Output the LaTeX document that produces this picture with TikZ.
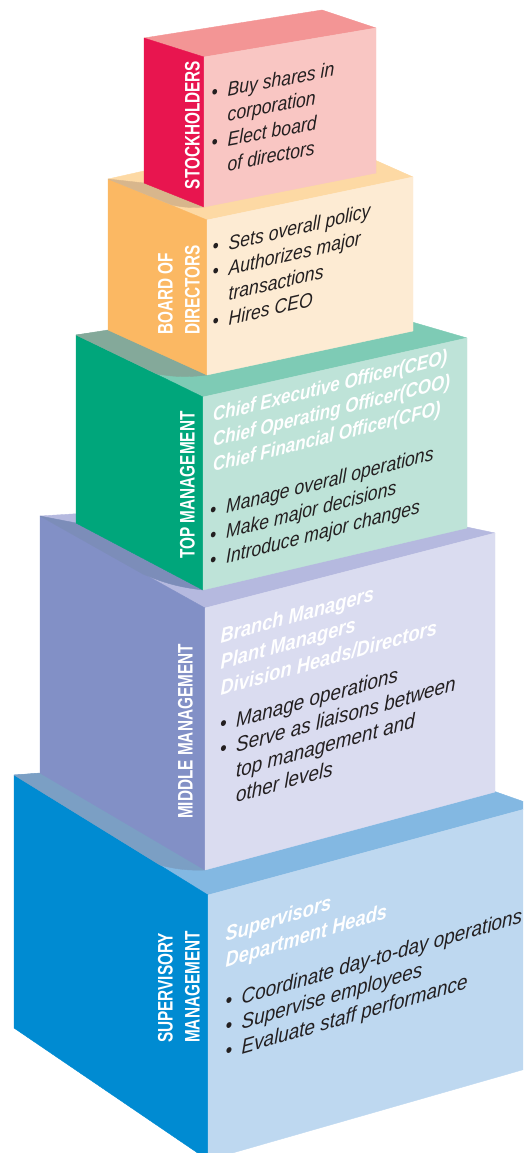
\documentclass[tikz,border=0pt]{standalone}
\usepackage{fontspec}
\setmainfont{Liberation Sans}
\newfontfamily\bodyfontA[FakeStretch=0.88]{Liberation Sans}
\newfontfamily\bodyfontB[FakeStretch=0.90]{Liberation Sans}
\newfontfamily\headfontA[FakeStretch=0.85]{Liberation Sans}
\newfontfamily\headfontB[FakeStretch=0.87]{Liberation Sans}
\newfontfamily\labelfont[FakeStretch=0.73]{Liberation Sans}

% face colours: top / left / front / cast shade
\definecolor{stTop}{HTML}{F39595}\definecolor{stLeft}{HTML}{E8154F}\definecolor{stFront}{HTML}{F9C6C3}
\definecolor{bdTop}{HTML}{FDD9A4}\definecolor{bdLeft}{HTML}{FBB863}\definecolor{bdFront}{HTML}{FDEBD3}\definecolor{bdShade}{HTML}{D8B68C}
\definecolor{tmTop}{HTML}{7ECBB5}\definecolor{tmLeft}{HTML}{00A67B}\definecolor{tmFront}{HTML}{BEE3D8}\definecolor{tmShade}{HTML}{84A99A}
\definecolor{mmTop}{HTML}{B5B9DF}\definecolor{mmLeft}{HTML}{8290C6}\definecolor{mmFront}{HTML}{DADCF0}\definecolor{mmShade}{HTML}{7C8DB9}
\definecolor{svTop}{HTML}{83B8E2}\definecolor{svLeft}{HTML}{008BD2}\definecolor{svFront}{HTML}{BED8F0}\definecolor{svShade}{HTML}{7B9FC4}
\definecolor{ink}{HTML}{231F20}

\newcommand\bul{\makebox[16pt][l]{\textbullet}}
\newcommand\bindent{\hspace*{16pt}}
\newcommand\lvlrows[1]{\begin{tabular}[t]{@{}l@{}}#1\end{tabular}}

% one block: top, left and front faces
\newcommand\drawblock[4]{%
  \filldraw[face=#2] (#1A) -- (#1B) -- (#1C) -- (#1D) -- cycle;
  \filldraw[face=#3] (#1A) -- (#1D) -- (#1F) -- (#1E) -- cycle;
  \filldraw[face=#4] (#1D) -- (#1C) -- (#1G) -- (#1F) -- cycle;}
% shade cast by the block above onto the top face below
\newcommand\castshade[4]{%
  \filldraw[face=#4] (#1A) -- (#2E) -- (#2F) to[bend left=8] (#3) -- cycle;}

\tikzset{
  face/.style={fill=#1, draw=#1, line width=0.4pt, line join=round},
  lvl/.style={text=white, inner sep=0pt, rotate=90,
    font=\labelfont\bfseries\fontsize{21}{27}\selectfont},
  bodyA/.style={text=ink, inner sep=0pt, anchor=base west,
    font=\bodyfontA\itshape\fontsize{20}{25}\selectfont},
  bodyB/.style={text=ink, inner sep=0pt, anchor=base west,
    font=\bodyfontB\itshape\fontsize{21}{25}\selectfont},
  headA/.style={text=white, inner sep=0pt, anchor=base west,
    font=\headfontA\bfseries\itshape\fontsize{20}{25}\selectfont},
  headB/.style={text=white, inner sep=0pt, anchor=base west,
    font=\headfontB\bfseries\itshape\fontsize{21}{26}\selectfont},
}

\begin{document}
\begin{tikzpicture}[x=1pt,y=-1pt]
\useasboundingbox (0,0) rectangle (523,1153);
\clip (0,0) rectangle (523,1153);

% corners: A back-left top, B back-right top, C front-right top,
% D front corner top, E left bottom, F front corner bottom, G front-right bottom
\coordinate (p1A) at (144,38);  \coordinate (p1B) at (322,10);  \coordinate (p1C) at (376,28);
\coordinate (p1D) at (204,57);  \coordinate (p1E) at (144,183); \coordinate (p1F) at (204,207);
\coordinate (p1G) at (376,173);

\coordinate (p2A) at (108,179); \coordinate (p2B) at (314,133); \coordinate (p2C) at (413,177);
\coordinate (p2D) at (207,220); \coordinate (p2E) at (108,330); \coordinate (p2F) at (207,375);
\coordinate (p2G) at (413,331);

\coordinate (p3A) at (76,335);  \coordinate (p3B) at (340,301); \coordinate (p3C) at (467,338);
\coordinate (p3D) at (203,397); \coordinate (p3E) at (76,523);  \coordinate (p3F) at (203,590);
\coordinate (p3G) at (467,528);

\coordinate (p4A) at (40,516);  \coordinate (p4B) at (330,498); \coordinate (p4C) at (495,533);
\coordinate (p4D) at (205,608); \coordinate (p4E) at (40,773);  \coordinate (p4F) at (205,870);
\coordinate (p4G) at (495,792);

\coordinate (p5A) at (14,775);  \coordinate (p5B) at (380,751); \coordinate (p5C) at (536,806);
\coordinate (p5D) at (208,895); \coordinate (p5E) at (14,1028); \coordinate (p5F) at (208,1160);
\coordinate (p5G) at (536,1066);

% points where each cast shade leaves the front edge of the top face
\coordinate (s2) at (172,205);
\coordinate (s3) at (157,374);
\coordinate (s4) at (143,574);
\coordinate (s5) at (160,865);

% blocks, from the bottom up
\drawblock{p5}{svTop}{svLeft}{svFront}
\castshade{p5}{p4}{s5}{svShade}
\drawblock{p4}{mmTop}{mmLeft}{mmFront}
\castshade{p4}{p3}{s4}{mmShade}
\drawblock{p3}{tmTop}{tmLeft}{tmFront}
\castshade{p3}{p2}{s3}{tmShade}
\drawblock{p2}{bdTop}{bdLeft}{bdFront}
\castshade{p2}{p1}{s2}{bdShade}
\drawblock{p1}{stTop}{stLeft}{stFront}

% level names on the left faces
\node[lvl] (lvl1) at (192.5,125) {STOCKHOLDERS};
\node[lvl, align=left, anchor=south west] (lvl2) at (200,335) {BOARD OF\\DIRECTORS};
\node[lvl] (lvl3) at (187.5,485) {TOP MANAGEMENT};
\node[lvl] (lvl4) at (185.5,731.5) {MIDDLE MANAGEMENT};
\node[lvl, align=left, anchor=south west] (lvl5) at (200,1043) {SUPERVISORY\\MANAGEMENT};

% duties on the front faces
\node[bodyA, yslant=0.19] (duty1) at (211.5,99.3) {\lvlrows{%
  \bul Buy shares in\\ \bindent corporation\\ \bul Elect board\\ \bindent of directors}};
\node[bodyA, yslant=0.23] (duty2) at (212.5,254) {\lvlrows{%
  \bul Sets overall policy\\ \bul Authorizes major\\ \bindent transactions\\ \bul Hires CEO}};
\node[headA, yslant=0.25] (role3) at (213,422) {\lvlrows{%
  Chief Executive Officer(CEO)\\ Chief Operating Officer(COO)\\ Chief Financial Officer(CFO)}};
\node[bodyA, yslant=0.26] (duty3) at (210,518) {\lvlrows{%
  \bul Manage overall operations\\ \bul Make major decisions\\ \bul Introduce major changes}};
\node[headB, yslant=0.28] (role4) at (220.5,643.5) {\lvlrows{%
  Branch Managers\\ Plant Managers\\ Division Heads/Directors}};
\node[bodyB, yslant=0.28] (duty4) at (220,732) {\lvlrows{%
  \bul Manage operations\\ \bul Serve as liaisons between\\ \bindent top management and\\ \bindent other levels}};
\node[headB, yslant=0.31] (role5) at (225.5,942) {\lvlrows{%
  Supervisors\\ Department Heads}};
\node[bodyB, yslant=0.29] (duty5) at (225.5,1009) {\lvlrows{%
  \bul Coordinate day-to-day operations\\ \bul Supervise employees\\ \bul Evaluate staff performance}};
\end{tikzpicture}
\end{document}
